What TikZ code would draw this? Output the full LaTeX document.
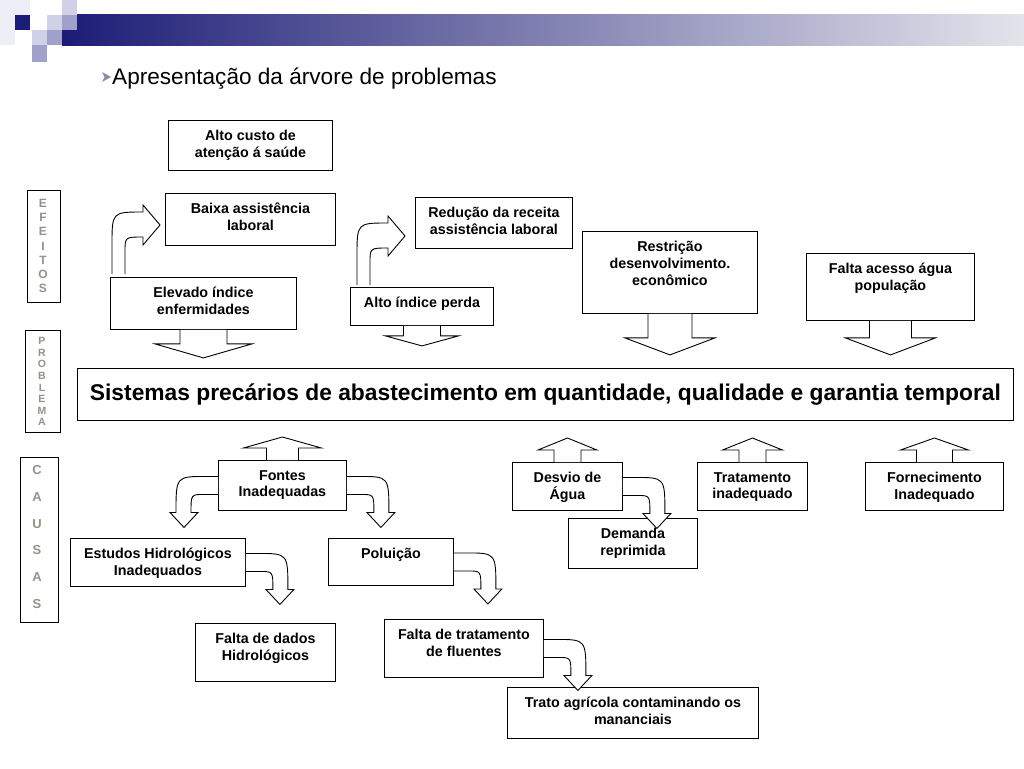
\documentclass[tikz,border=0pt]{standalone}
\usepackage{fontspec}
\setmainfont{Liberation Sans}
\usetikzlibrary{calc}
\definecolor{HeaderNavy}{RGB}{28,28,118}
\definecolor{HeaderMid}{RGB}{150,150,188}
\definecolor{HeaderFade}{RGB}{228,228,236}
\definecolor{SquareLight}{RGB}{208,208,230}
\definecolor{SquareMid}{RGB}{160,160,202}
\definecolor{SquareFaint}{RGB}{238,238,246}
\definecolor{LetterGray}{RGB}{150,146,136}
\definecolor{BulletGray}{RGB}{140,140,165}

\tikzset{
  box/.style={draw, line width=0.9pt, anchor=north west, inner sep=0pt},
  boxtext/.style={font=\bfseries\fontsize{14.3}{16.8}\selectfont, align=center, anchor=north, inner sep=0pt, yshift=-10pt},
  blockline/.style={draw, line width=0.9pt, fill=white, line join=miter},
  sidebox/.style={draw, line width=0.9pt},
  vletter/.style={font=\bfseries\fontsize{12}{12}\selectfont, text=LetterGray, inner sep=0pt}
}

% block arrows: node, stem half width, stem length, head half width, head length
\newcommand{\downblock}[5]{%
  \draw[blockline] ($(#1.south)+(-#2,0)$) -- ++(0,#3) -- ++({#2-#4},0) -- ($(#1.south)+(0,{#3+#5})$) -- ($(#1.south)+(#4,#3)$) -- ++({#2-#4},0) -- ++(0,-#3);}
\newcommand{\upblock}[5]{%
  \draw[blockline] ($(#1.north)+(-#2,0)$) -- ++(0,-#3) -- ++({#2-#4},0) -- ($(#1.north)+(0,{-#3-#5})$) -- ($(#1.north)+(#4,-#3)$) -- ++({#2-#4},0) -- ++(0,#3);}
% bent arrows: start point, xscale
\newcommand{\bentdown}[2]{%
  \begin{scope}[shift={(#1)}, xscale=#2]
    \draw[blockline] (0,0) -- (12,0) .. controls (42,0) .. (42,36) -- (48,36) -- (34,51) -- (20,36) -- (27,36) .. controls (27,18) .. (14,18) -- (0,18);
  \end{scope}}
\newcommand{\bentright}[1]{%
  \begin{scope}[shift={(#1)}]
    \draw[blockline] (0,0) -- (0,-29) .. controls (0,-62) .. (31,-62) -- (31,-69) -- (48,-49) -- (31,-29) -- (31,-37) .. controls (13,-37) .. (13,-22) -- (13,0);
  \end{scope}}

\begin{document}
\begin{tikzpicture}[x=1pt, y=-1pt]
  \fill[white] (0,0) rectangle (1024,768);
  \useasboundingbox (0,0) rectangle (1024,768);

  % Header
  \fill[SquareFaint] (0,0) rectangle (15,45);
  \fill[SquareFaint] (15,0) rectangle (30,15);
  \shade[left color=HeaderNavy, middle color=HeaderMid, right color=HeaderFade] (62,15) rectangle (1024,46);
  \fill[HeaderNavy] (15,15) rectangle (30,30);
  \fill[SquareLight] (62,0) rectangle (77,15);
  \fill[SquareLight] (47,15) rectangle (62,30);
  \fill[SquareMid] (62,15) rectangle (77,30);
  \fill[SquareLight] (32,30) rectangle (47,45);
  \fill[SquareMid] (47,30) rectangle (62,45);
  \fill[SquareMid] (32,45) rectangle (47,62);

  % Title
  \fill[BulletGray] (102,72) -- (111,77) -- (102,82) -- (104.5,77) -- cycle;
  \node[anchor=base west, inner sep=0pt, font=\fontsize{22.6}{26}\selectfont] (titulo) at (112,84) {Apresentação da árvore de problemas};

  % Side labels
  \draw[sidebox] (27,190) rectangle (60,302);
  \foreach \l [count=\i from 0] in {E,F,E,I,T,O,S}
    \node[vletter] (efeito-\i) at (43,{203+14.3*\i}) {\l};
  \draw[sidebox] (25,330) rectangle (60,432);
  \foreach \l [count=\i from 0] in {P,R,O,B,L,E,M,A}
    \node[vletter, font=\bfseries\fontsize{10.5}{10.5}\selectfont] (problema-\i) at (42,{341+11.6*\i}) {\l};
  \draw[sidebox] (20,457) rectangle (58,622);
  \foreach \l [count=\i from 0] in {C,A,U,S,A,S}
    \node[vletter, font=\bfseries\fontsize{13}{13}\selectfont] (causa-\i) at (37,{470+26.8*\i}) {\l};

  % Efeitos
  \node[box, minimum width=164, minimum height=50, label={[boxtext]north:{Alto custo de\\atenção á saúde}}] (custo) at (168,120) {};
  \node[box, minimum width=170, minimum height=52, label={[boxtext]north:{Baixa assistência\\laboral}}] (baixa) at (165,193) {};
  \node[box, minimum width=186, minimum height=52, label={[boxtext]north:{Elevado índice\\enfermidades}}] (elevado) at (110,277) {};
  \node[box, minimum width=157, minimum height=51, label={[boxtext]north:{Redução da receita\\assistência laboral}}] (reducao) at (415,197) {};
  \node[box, minimum width=143, minimum height=38, label={[boxtext]north:{Alto índice perda}}] (perda) at (350,287) {};
  \node[box, minimum width=175, minimum height=82, label={[boxtext]north:{Restrição\\desenvolvimento.\\econômico}}] (restricao) at (582,231) {};
  \node[box, minimum width=168, minimum height=67, label={[boxtext]north:{Falta acesso água\\população}}] (acesso) at (806,253) {};

  \bentright{$(elevado.north west)+(2,-3)$}
  \bentright{$(perda.north west)+(7,-2)$}
  \downblock{elevado}{23.5}{14}{48.5}{14}
  \downblock{perda}{18.5}{10}{36.5}{10}
  \downblock{restricao}{22}{24}{45}{17}
  \downblock{acesso}{21}{17}{45}{17}

  % Problema central
  \node[box, minimum width=936, minimum height=52, font=\bfseries\fontsize{22.8}{26}\selectfont] (problema) at (77,368) {Sistemas precários de abastecimento em quantidade, qualidade e garantia temporal};

  % Causas
  \node[box, minimum width=128, minimum height=50, label={[boxtext]north:{Fontes\\Inadequadas}}] (fontes) at (218,460) {};
  \node[box, minimum width=110, minimum height=48, label={[boxtext]north:{Desvio de\\Água}}] (desvio) at (512,462) {};
  \node[box, minimum width=110, minimum height=48, label={[boxtext]north:{Tratamento\\inadequado}}] (tratamento) at (697,462) {};
  \node[box, minimum width=138, minimum height=48, label={[boxtext]north:{Fornecimento\\Inadequado}}] (fornecimento) at (865,462) {};
  \node[box, minimum width=129, minimum height=50, label={[boxtext]north:{Demanda\\reprimida}}] (demanda) at (568,518) {};
  \node[box, minimum width=175, minimum height=48, label={[boxtext]north:{Estudos Hidrológicos\\Inadequados}}] (estudos) at (70,538) {};
  \node[box, minimum width=125, minimum height=47, label={[boxtext]north:{Poluição}}] (poluicao) at (328,538) {};
  \node[box, minimum width=140, minimum height=58, label={[boxtext]north:{Falta de dados\\Hidrológicos}}] (dados) at (195,623) {};
  \node[box, minimum width=159, minimum height=58, label={[boxtext]north:{Falta de tratamento\\de fluentes}}] (fluentes) at (384,619) {};
  \node[box, minimum width=251, minimum height=51, label={[boxtext]north:{Trato agrícola contaminando os\\mananciais}}] (trato) at (507,687) {};

  \upblock{fontes}{16}{12}{39}{11}
  \upblock{desvio}{13.5}{12}{29.5}{12}
  \upblock{tratamento}{13.5}{12}{30}{12}
  \upblock{fornecimento}{18}{12}{34}{12}

  \bentdown{$(fontes.east)+(0,-9)$}{1}
  \bentdown{$(fontes.west)+(0,-9)$}{-1}
  \bentdown{$(desvio.east)+(0,-9)$}{1}
  \bentdown{$(estudos.east)+(0,-9)$}{1}
  \bentdown{$(poluicao.east)+(0,-9)$}{1}
  \bentdown{$(fluentes.east)+(0,-9)$}{1}
\end{tikzpicture}
\end{document}
